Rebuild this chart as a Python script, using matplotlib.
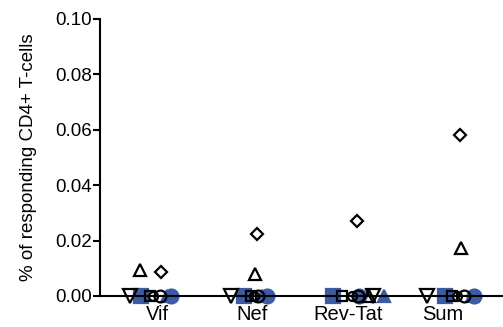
import matplotlib
matplotlib.use("Agg")
import matplotlib.pyplot as plt

plt.rcParams['font.family'] = ['Liberation Sans', 'DejaVu Sans']

categories = ["Vif", "Nef", "Rev-Tat", "Sum"]
subjects = ["S1", "S2", "S3", "S4", "S5", "S6", "S7", "S8", "S9"]
# responses per subject, per category (Vif, Nef, Rev-Tat, Sum)
values = {
    "S1": [0.0, 0.0, 0.0, 0.0],
    "S2": [0.0, 0.0, 0.0, 0.0],
    "S3": [0.0, 0.0, 0.0, 0.0],
    "S4": [0.0094, 0.0079, 0.0, 0.0173],
    "S5": [0.0087, 0.0225, 0.0270, 0.0582],
    "S6": [0.0, 0.0, 0.0, 0.0],
    "S7": [0.0, 0.0, 0.0, 0.0],
    "S8": [0.0, 0.0, 0.0, 0.0],
    "S9": [0.0, 0.0, 0.0, 0.0],
}
yticks = [0.00, 0.02, 0.04, 0.06, 0.08, 0.10]
ylabel = "% of responding CD4+ T-cells"

BLUE = "#3B5BA5"
# marker style per subject: (marker, facecolor, edgecolor, size, zorder)
styles = {
    "S1": ("v", "none", "black", 10, 4),
    "S2": ("s", BLUE, BLUE, 10, 2),
    "S3": ("s", "none", "black", 7.5, 3),
    "S4": ("^", "none", "black", 8.5, 4),
    "S5": ("D", "none", "black", 6.5, 4),
    "S6": ("o", "none", "black", 6.5, 4),
    "S7": ("o", "none", "black", 8.5, 4),
    "S8": ("o", BLUE, BLUE, 10, 2),
    "S9": ("^", BLUE, BLUE, 9, 2),
}
# horizontal jitter (layout) per category, per subject
offsets = {
    "S1": [-0.29, -0.23, 0.27, -0.17],
    "S2": [-0.17, -0.09, -0.15, 0.02],
    "S3": [-0.08, -0.02, -0.06, 0.09],
    "S4": [-0.18, 0.03, 0.22, 0.19],
    "S5": [0.04, 0.05, 0.10, 0.18],
    "S6": [-0.04, 0.02, 0.04, 0.15],
    "S7": [0.03, 0.06, 0.11, 0.22],
    "S8": [0.14, 0.15, 0.12, 0.33],
    "S9": [0.10, 0.10, 0.38, 0.30],
}

fig = plt.figure(figsize=(5.03, 3.27), dpi=100)
ax = fig.add_axes([0.199, 0.095, 0.801, 0.847])

for s in subjects:
    m, fc, ec, ms, z = styles[s]
    xs = [i + 1 + offsets[s][i] for i in range(len(categories))]
    ax.plot(xs, values[s], linestyle="none", marker=m, markersize=ms,
            markerfacecolor=fc, markeredgecolor=ec, markeredgewidth=1.6,
            zorder=z, clip_on=False)

ax.set_xlim(0.4, 4.63)
ax.set_ylim(0, 0.10)
ax.set_yticks(yticks)
ax.set_yticklabels([f"{v:.2f}" for v in yticks], fontsize=13.5)
ax.set_xticks(range(1, len(categories) + 1))
ax.set_xticklabels(categories, fontsize=14.5)
ax.tick_params(axis="x", length=0, pad=6.5)
ax.tick_params(axis="y", length=5, width=1.5, pad=1)
ax.set_ylabel(ylabel, fontsize=13.5, labelpad=13)

for side in ["top", "right"]:
    ax.spines[side].set_visible(False)
for side in ["left", "bottom"]:
    ax.spines[side].set_linewidth(1.5)
    ax.spines[side].set_zorder(5)

fig.savefig("out.png", dpi=100)
